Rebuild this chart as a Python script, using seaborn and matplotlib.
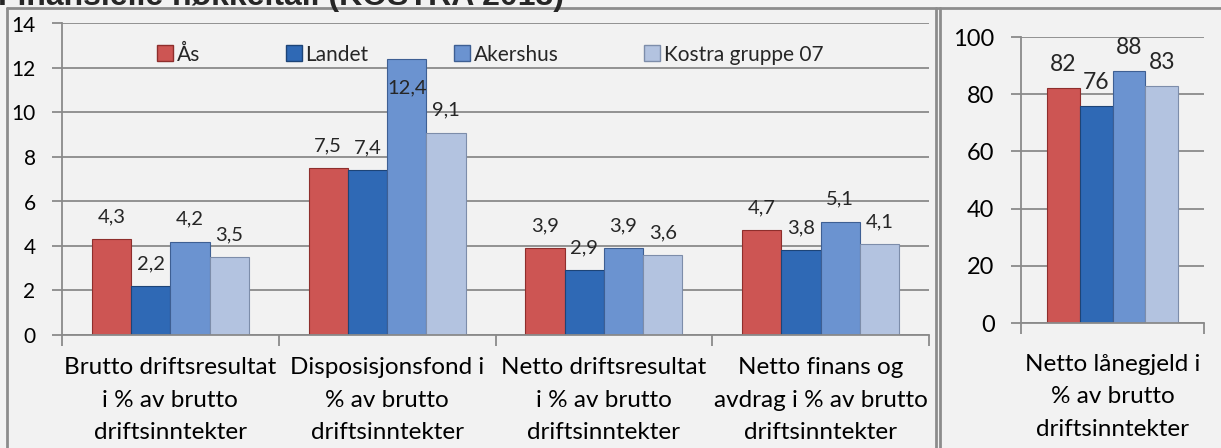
import pandas as pd
import seaborn as sns
import matplotlib.pyplot as plt
from matplotlib.lines import Line2D

# data
series = ['Ås', 'Landet', 'Akershus', 'Kostra gruppe 07']
categories = [
    'Brutto driftsresultat\ni % av brutto\ndriftsinntekter',
    'Disposisjonsfond i\n% av brutto\ndriftsinntekter',
    'Netto driftsresultat\ni % av brutto\ndriftsinntekter',
    'Netto finans og\navdrag i % av brutto\ndriftsinntekter',
]
as_vals = [4.3, 7.5, 3.9, 4.7]
landet_vals = [2.2, 7.4, 2.9, 3.8]
akershus_vals = [4.2, 12.4, 3.9, 5.1]
kostra_vals = [3.5, 9.1, 3.6, 4.1]

debt_category = ['Netto lånegjeld i\n% av brutto\ndriftsinntekter']
debt_vals = [82, 76, 88, 83]

colors = ['#CD5553', '#2F69B5', '#6B93D0', '#B3C3E0']
edges = ['#8E2E2C', '#1D4477', '#3E5F93', '#7D8DAA']
bg = '#F2F2F2'
grid_c = '#8A8A8A'

sns.set_theme(style='white')
plt.rcParams['font.family'] = ['Lato', 'DejaVu Sans']

df = pd.DataFrame({
    'kategori': categories * 4,
    'serie': [s for s in series for _ in categories],
    'verdi': as_vals + landet_vals + akershus_vals + kostra_vals,
})
df_debt = pd.DataFrame({
    'kategori': debt_category * 4,
    'serie': series,
    'verdi': debt_vals,
})

W, H = 1221, 448
fig = plt.figure(figsize=(W / 100, H / 100), dpi=100, facecolor=bg)


def px_box(x0, y0, x1, y1):
    return [x0 / W, 1 - y1 / H, (x1 - x0) / W, (y1 - y0) / H]


def style_axis(ax, ncat, ymax, ystep, tick_fs):
    ax.set_facecolor(bg)
    ax.set_ylim(0, ymax)
    ax.set_xlim(-0.5, ncat - 0.5)
    ax.set_yticks(range(0, ymax + 1, ystep))
    ax.tick_params(axis='y', length=7, width=1.3, color=grid_c, pad=12,
                   labelsize=tick_fs, labelcolor='black', left=True)
    ax.yaxis.grid(True, color=grid_c, linewidth=1.3)
    ax.set_axisbelow(True)
    # category boundaries as tick marks, labels at the centres
    ax.set_xticks([i - 0.5 for i in range(ncat + 1)])
    ax.set_xticklabels([])
    ax.set_xticks(range(ncat), minor=True)
    ax.tick_params(axis='x', which='major', length=8, width=1.3,
                   color=grid_c, bottom=True)
    ax.tick_params(axis='x', which='minor', length=0, pad=16,
                   labelsize=17.5, labelcolor='black')
    for s in ['top', 'right']:
        ax.spines[s].set_visible(False)
    for s in ['left', 'bottom']:
        ax.spines[s].set_color(grid_c)
        ax.spines[s].set_linewidth(1.3)
    ax.set_xlabel('')
    ax.set_ylabel('')


def style_bars(ax):
    for k, cont in enumerate(ax.containers):
        for bar in cont:
            bar.set_edgecolor(edges[k])
            bar.set_linewidth(0.8)


# left panel
ax1 = fig.add_axes(px_box(62, 23.5, 929, 335))
sns.barplot(data=df, x='kategori', y='verdi', hue='serie', palette=colors,
            width=0.725, gap=0, saturation=1, legend=False, ax=ax1)
style_axis(ax1, len(categories), 14, 2, 15)
ax1.set_xticklabels(categories, minor=True, linespacing=1.68)
style_bars(ax1)
for cont in ax1.containers:
    for bar in cont:
        v = bar.get_height()
        xc = bar.get_x() + bar.get_width() / 2
        txt = f'{v:.1f}'.replace('.', ',')
        off = -21 if v > 11 else 16
        ax1.annotate(txt, (xc, v), xytext=(0, off), textcoords='offset points',
                     ha='center', va='center', fontsize=14.5)

handles = [Line2D([], [], marker='s', linestyle='none', markersize=11,
                  markerfacecolor=colors[i], markeredgecolor=edges[i])
           for i in range(len(series))]
ax1.legend(handles, series, ncol=4, loc='center', bbox_to_anchor=(0.494, 0.9),
           frameon=False, fontsize=15, handletextpad=0.15, columnspacing=4.1,
           handlelength=0.8)

# right panel
ax2 = fig.add_axes(px_box(1021, 37, 1204, 323))
sns.barplot(data=df_debt, x='kategori', y='verdi', hue='serie', palette=colors,
            width=0.72, gap=0, saturation=1, legend=False, ax=ax2)
style_axis(ax2, 1, 100, 20, 17)
ax2.set_xticklabels(debt_category, minor=True, linespacing=1.68)
ax2.tick_params(axis='x', which='minor', pad=22, labelsize=17.5)
style_bars(ax2)
for cont in ax2.containers:
    for bar in cont:
        v = bar.get_height()
        xc = bar.get_x() + bar.get_width() / 2
        ax2.annotate(f'{v:.0f}', (xc, v), xytext=(0, 17), textcoords='offset points',
                     ha='center', va='center', fontsize=16.5)

# panel frames and the clipped title
frame_kw = dict(color='#8C8C8C', linewidth=2, transform=fig.transFigure)
fig.add_artist(Line2D([7 / W, 1], [1 - 8 / H, 1 - 8 / H], **frame_kw))
fig.add_artist(Line2D([7 / W, 7 / W], [0, 1 - 8 / H], **frame_kw))
fig.add_artist(Line2D([936 / W, 936 / W], [0, 1 - 8 / H], **frame_kw))
fig.add_artist(Line2D([940 / W, 940 / W], [0, 1 - 8 / H], **frame_kw))
fig.text(-2 / W, 1 - 5 / H, 'Finansielle nøkkeltall (KOSTRA 2013)',
         fontsize=23, fontweight='bold', va='baseline', ha='left',
         family=['Liberation Sans', 'DejaVu Sans'])

fig.savefig('out.png', dpi=100, facecolor=bg)
